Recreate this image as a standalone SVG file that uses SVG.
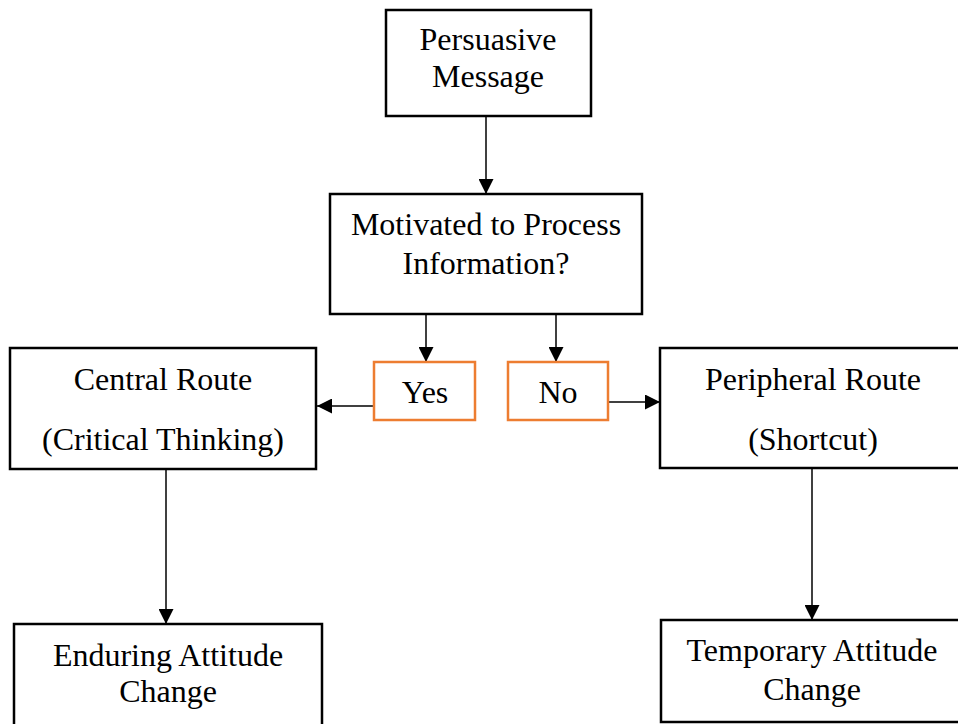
<svg xmlns="http://www.w3.org/2000/svg" width="958" height="724" viewBox="0 0 958 724">
<style>
.box{fill:#fff;stroke:#000;stroke-width:2.5}
.opt{fill:#fff;stroke:#ED7D31;stroke-width:2.5}
.t{font-family:"Liberation Serif","Times New Roman",serif;font-size:32px;fill:#000;text-anchor:middle}
.ln{stroke:#000;stroke-width:1.5;fill:none;marker-end:url(#ah)}
</style>
<defs>
<marker id="ah" viewBox="0 0 15 15" refX="15" refY="7.5" markerWidth="15" markerHeight="15" markerUnits="userSpaceOnUse" orient="auto">
<path d="M0,0 L15,7.5 L0,15 Z" fill="#000"/>
</marker>
</defs>
<rect width="958" height="724" fill="#fff"/>
<g id="connectors">
<line class="ln" x1="486" y1="116" x2="486" y2="194"/>
<line class="ln" x1="426" y1="314" x2="426" y2="362"/>
<line class="ln" x1="556" y1="314" x2="556" y2="362"/>
<line class="ln" x1="374" y1="406" x2="317" y2="406"/>
<line class="ln" x1="608" y1="402" x2="660" y2="402"/>
<line class="ln" x1="166" y1="469" x2="166" y2="624"/>
<line class="ln" x1="812" y1="468" x2="812" y2="620"/>
</g>
<g id="persuasive">
<rect class="box" x="386" y="10" width="205" height="106"/>
<text class="t" x="488" y="50">Persuasive</text>
<text class="t" x="488" y="87">Message</text>
</g>
<g id="motivated">
<rect class="box" x="330" y="194" width="312" height="120"/>
<text class="t" x="486" y="235">Motivated to Process</text>
<text class="t" x="486" y="274">Information?</text>
</g>
<g id="yes">
<rect class="opt" x="374" y="362" width="101" height="58"/>
<text class="t" x="425" y="403">Yes</text>
</g>
<g id="no">
<rect class="opt" x="508" y="362" width="100" height="58"/>
<text class="t" x="558" y="403">No</text>
</g>
<g id="central">
<rect class="box" x="10" y="348" width="306" height="121"/>
<text class="t" x="163" y="390">Central Route</text>
<text class="t" x="163" y="450">(Critical Thinking)</text>
</g>
<g id="peripheral">
<rect class="box" x="660" y="348" width="306" height="120"/>
<text class="t" x="813" y="390">Peripheral Route</text>
<text class="t" x="813" y="450">(Shortcut)</text>
</g>
<g id="enduring">
<rect class="box" x="14" y="624" width="308" height="110"/>
<text class="t" x="168" y="666">Enduring Attitude</text>
<text class="t" x="168" y="702">Change</text>
</g>
<g id="temporary">
<rect class="box" x="661" y="620" width="306" height="102"/>
<text class="t" x="812" y="661">Temporary Attitude</text>
<text class="t" x="812" y="700">Change</text>
</g>
</svg>
